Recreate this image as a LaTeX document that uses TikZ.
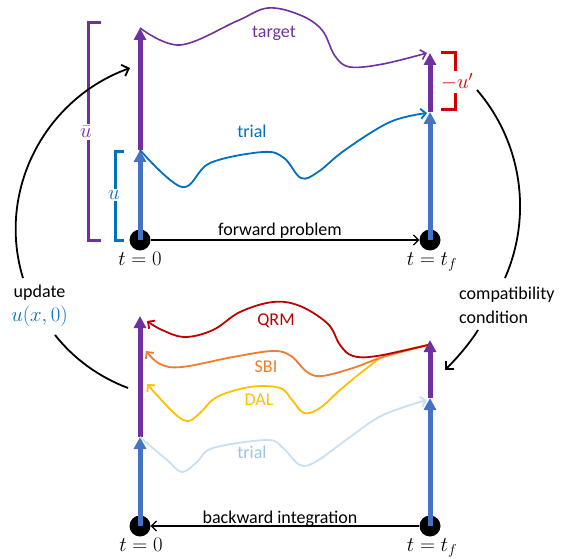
\documentclass[tikz,border=0pt]{standalone}
\usepackage{fontspec}
\setmainfont{Carlito}
\usetikzlibrary{arrows.meta}
\definecolor{cpurple}{HTML}{7030A0}
\definecolor{cvbar}{HTML}{4472C4}
\definecolor{ctrial}{HTML}{0070C0}
\definecolor{clight}{HTML}{C9DFF2}
\definecolor{clighttxt}{HTML}{9DC3E6}
\definecolor{cqrm}{HTML}{C00000}
\definecolor{csbi}{HTML}{ED7D31}
\definecolor{cdal}{HTML}{FFC000}
\definecolor{cred}{HTML}{D00000}
\begin{document}
\begin{tikzpicture}[x=1pt,y=-1pt,
  dot/.style={circle,fill=black,inner sep=0pt,minimum size=21pt},
  vbar/.style={line width=5pt,-{Triangle[length=12pt,width=12pt]}},
  curve/.style={line width=1.8pt,-{Straight Barb[length=5pt,width=10pt]}},
  timeline/.style={line width=1.2pt,-{Straight Barb[length=5pt,width=10pt]}},
  arcline/.style={line width=1.8pt,black},
  arcarrow/.style={arcline,-{Straight Barb[length=6pt,width=12pt]}},
  brk/.style={line width=3pt},
  lbl/.style={font=\fontsize{18}{24}\selectfont,inner sep=0pt},
  mlbl/.style={font=\fontsize{21}{24}\selectfont,inner sep=0pt},
  blank/.style={mlbl,fill=white,inner sep=2pt}]
\useasboundingbox (0,0) rectangle (568,559);

% ---------- top panel ----------
\coordinate (a1) at (140,150);
\coordinate (a2) at (140,28);
\coordinate (b1) at (430,112);
\coordinate (b2) at (430,53);
\node[dot] (A0) at (140,240) {};
\node[dot] (B0) at (430,240) {};

\draw[vbar,cvbar] (A0.center) -- (a1);
\draw[vbar,cpurple] (a1) -- (a2);
\draw[vbar,cvbar] (B0.center) -- (b1);
\draw[vbar,cpurple] (b1) -- (b2);

\coordinate (tg) at (427,53);
\coordinate (tr) at (427,113);
\draw[curve,cpurple,line width=1.6pt] plot[smooth,tension=0.6] coordinates
  {(a2) (180,45) (237,21) (268,8) (300,15) (322,30) (335,56) (350,67) (383,64) (tg)};
\draw[curve,ctrial] plot[smooth,tension=0.6] coordinates
  {(a1) (182,187) (210,163) (263,152) (284,158) (301,178) (318,172) (345,150) (390,122) (tr)};

\node[lbl,text=cpurple,anchor=base] (ltarget) at (274,38) {target};
\node[lbl,text=ctrial,anchor=base] (ltrial) at (252,138) {trial};

% brackets
\draw[brk,cpurple] (101,23) -- (88,23) -- (88,240) -- (101,240);
\node[blank,text=cpurple] (lubar) at (86,132) {$\bar{u}$};
\draw[brk,ctrial] (124,152) -- (115,152) -- (115,240) -- (124,240);
\node[blank,text=ctrial] (lu) at (114,195) {$u$};
\draw[brk,cred] (441,53) -- (455,53) -- (455,110) -- (441,110);
\node[blank,text=cred] (lup) at (457,82) {$-u'$};

\draw[timeline] (A0) -- (B0);
\node[lbl,anchor=base] (lfwd) at (280,235) {forward problem};
\node[mlbl,anchor=base] (lt0a) at (140,265) {$t=0$};
\node[mlbl,anchor=base] (ltfa) at (432,265) {$t=t_f$};

% ---------- bottom panel ----------
\coordinate (c1) at (140,437);
\coordinate (c2) at (140,316);
\coordinate (d1) at (430,398);
\coordinate (d2) at (430,340);
\node[dot] (C0) at (140,526) {};
\node[dot] (D0) at (430,526) {};

\draw[vbar,cvbar] (C0.center) -- (c1);
\draw[vbar,cpurple] (c1) -- (c2);
\draw[vbar,cvbar] (D0.center) -- (d1);
\draw[vbar,cpurple] (d1) -- (d2);

\coordinate (rb) at (428,345);
\coordinate (eq) at (147,321);
\coordinate (es) at (146,351);
\coordinate (ed) at (147,384);
\coordinate (lt) at (427,400);

\draw[curve,clight] plot[smooth,tension=0.6] coordinates
  {(c1) (167,460) (182,472) (197,462) (213,448) (267,440) (283,448) (300,465) (317,461) (350,437) (383,415) (lt)};
\draw[curve,cdal] plot[smooth,tension=0.6] coordinates
  {(rb) (387,355) (367,368) (340,390) (320,408) (304,413) (292,400) (280,388) (250,387) (217,397) (200,413) (188,421) (174,413) (ed)};
\draw[curve,csbi] plot[smooth,tension=0.6] coordinates
  {(rb) (383,357) (353,368) (322,376) (307,372) (291,356) (273,351) (233,357) (182,367) (160,364) (es)};
\draw[curve,cqrm] plot[smooth,tension=0.6] coordinates
  {(rb) (377,356) (353,356) (340,345) (328,324) (300,306) (273,302) (240,312) (213,330) (185,337) (162,330) (eq)};

\node[lbl,text=cqrm,anchor=base] (lqrm) at (276,325) {QRM};
\node[lbl,text=csbi,anchor=base] (lsbi) at (266,372) {SBI};
\node[lbl,text=cdal,anchor=base] (ldal) at (259,405) {DAL};
\node[lbl,text=clighttxt,anchor=base] (ltrial2) at (252,458) {trial};

\draw[timeline] (D0) -- (C0);
\node[lbl,anchor=base] (lbwd) at (280,523) {backward integration};
\node[mlbl,anchor=base] (lt0b) at (141,551) {$t=0$};
\node[mlbl,anchor=base] (ltfb) at (432,551) {$t=t_f$};

% ---------- side arcs ----------
\node[lbl,align=center] (lupd) at (39.5,306) {update\\{\fontsize{22}{24}\selectfont\textcolor{ctrial}{$u(x,0)$}}};
\node[lbl,align=left,anchor=west] (lcomp) at (459,305) {compatibility\\condition};

\coordinate (p1) at (23,278);
\coordinate (p2) at (130,68);
\coordinate (p3) at (55,335);
\coordinate (p4) at (128,388);
\draw[arcarrow] (p1) .. controls (-3.6,191) and (44.5,99) .. (p2);
\draw[arcline] (p3) .. controls (74,359) and (99,377) .. (p4);

\coordinate (q1) at (477,90);
\coordinate (q2) at (505,278);
\coordinate (q3) at (478,330);
\coordinate (q4) at (445,370);
\draw[arcline] (q1) .. controls (521.7,141.9) and (532.6,215.3) .. (q2);
\draw[arcarrow] (q3) .. controls (470,343) and (458,357) .. (q4);
\end{tikzpicture}
\end{document}
